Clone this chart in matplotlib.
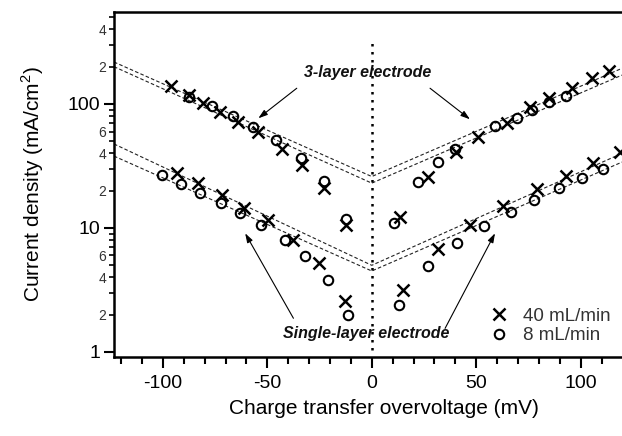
import numpy as np
import matplotlib
matplotlib.use("Agg")
import matplotlib.pyplot as plt
from matplotlib.ticker import FixedLocator, FuncFormatter
from matplotlib.lines import Line2D

plt.rcParams['font.family'] = ['Liberation Sans', 'DejaVu Sans']
plt.rcParams['mathtext.fontset'] = 'custom'
plt.rcParams['mathtext.rm'] = 'Liberation Sans'
plt.rcParams['axes.unicode_minus'] = False

# ---- measured polarisation data (overvoltage in mV, current density in mA/cm2)
eta_3l_40 = [-96.2, -87.7, -80.6, -72.6, -63.8, -54.3, -43.1, -33.5, -22.8, -12.1,
             13.5, 27.1, 40.2, 51.0, 64.6, 75.7, 84.8, 95.7, 105.3, 113.5]
j_3l_40 = [140, 118, 101, 86.7, 72, 59.8, 43.1, 32.2, 20.9, 10.6,
           12.2, 25.7, 40.9, 54.5, 69.9, 95, 111, 134, 161, 185]

eta_3l_8 = [-87.3, -76.6, -66.6, -57.0, -45.8, -33.8, -22.8, -12.1,
            10.8, 22.0, 31.9, 39.9, 59.0, 69.4, 76.6, 84.8, 92.8]
j_3l_8 = [114.5, 96.4, 80, 65.6, 51, 36.5, 24.1, 11.8,
          11.0, 23.4, 33.9, 43.1, 66.8, 77.6, 89.5, 104, 116.7]

eta_1l_40 = [-93.0, -83.0, -71.8, -61.2, -49.5, -37.5, -25.1, -12.8,
             15.1, 31.9, 47.0, 63.0, 78.9, 92.8, 106.0, 118.8]
j_1l_40 = [27.9, 22.9, 18.5, 14.5, 11.5, 8.0, 5.2, 2.6,
           3.16, 6.73, 10.6, 15.0, 20.5, 26.3, 33.2, 41.2]

eta_1l_8 = [-100.5, -91.2, -82.2, -72.3, -63.0, -53.0, -41.5, -31.9, -20.8, -11.2,
            13.2, 27.1, 40.7, 53.7, 66.7, 77.7, 89.8, 100.5, 110.5]
j_1l_8 = [26.8, 22.6, 19.3, 16.0, 13.2, 10.6, 8.0, 5.9, 3.8, 1.99,
          2.39, 4.94, 7.52, 10.4, 13.5, 16.8, 20.9, 25.1, 29.7]

# Tafel fit lines (cathodic end, zero overvoltage, anodic end)
fit_eta = [-123.4, 0.0, 119.8]
fit_3l_a = [218, 26, 194]
fit_3l_b = [200, 23, 171]
fit_1l_a = [47.6, 5.0, 40]
fit_1l_b = [38, 4.5, 34]

legend_labels = ['40 mL/min', '8 mL/min']

W, H = 622, 436
fig = plt.figure(figsize=(W / 100, H / 100), dpi=100)
ax = fig.add_axes([114 / W, (H - 357) / H, (W - 114) / W, (357 - 12) / H])

ax.set_yscale('log')
ax.set_xlim(-123.4, 119.8)
ax.set_ylim(0.911, 552)

dash = (0, (3.2, 2.0))
for fit in (fit_3l_a, fit_3l_b, fit_1l_a, fit_1l_b):
    ax.plot(fit_eta, fit, linestyle=dash, color='#222222', lw=0.8, zorder=2)

# zero-overvoltage marker line
ax.plot([0, 0], [1.04, 328], linestyle=(0, (1.0, 2.2)), color='black', lw=1.8, zorder=2)

xkw = dict(marker='x', linestyle='none', color='black', markersize=8.5, markeredgewidth=1.8, zorder=3)
okw = dict(marker='o', linestyle='none', markerfacecolor='none', markeredgecolor='black',
           markersize=6.8, markeredgewidth=1.5, zorder=3)
ax.plot(eta_3l_40, j_3l_40, **xkw)
ax.plot(eta_1l_40, j_1l_40, **xkw)
ax.plot(eta_3l_8, j_3l_8, **okw)
ax.plot(eta_1l_8, j_1l_8, **okw)

# annotations
tkw = dict(fontsize=11.5, fontweight='bold', fontstyle='italic', ha='center', va='center', color='#111111')
ax.text(-2.2, 178, '3-layer electrode', **tkw)
ax.text(-2.5, 1.42, 'Single-layer electrode', **tkw)
akw = dict(arrowstyle='-|>,head_length=0.55,head_width=0.18', color='black', lw=0.8,
           shrinkA=0, shrinkB=0)
ax.annotate('', xy=(-54.3, 76.7), xytext=(-35.9, 134), arrowprops=akw)
ax.annotate('', xy=(47.0, 75.3), xytext=(27.9, 134), arrowprops=akw)
ax.annotate('', xy=(-60.6, 9.06), xytext=(-37.5, 1.87), arrowprops=akw)
ax.annotate('', xy=(59.0, 9.06), xytext=(35.1, 1.55), arrowprops=akw)

# legend
handles = [Line2D([], [], **xkw), Line2D([], [], **okw)]
leg = ax.legend(handles, legend_labels, loc='center left', bbox_to_anchor=(0.725, 0.09),
                frameon=False, fontsize=13.5, handlelength=1.0, handletextpad=0.75,
                labelspacing=0.12, borderaxespad=0)
for t in leg.get_texts():
    t.set_color('#333333')

# axes styling
for s in ('left', 'bottom', 'top'):
    ax.spines[s].set_linewidth(1.8)
ax.spines['right'].set_visible(False)

ax.xaxis.set_major_locator(FixedLocator([-100, -50, 0, 50, 100]))
ax.xaxis.set_minor_locator(FixedLocator(np.arange(-120, 121, 10)))
ax.tick_params(axis='x', which='major', direction='out', length=8, width=1.5,
               labelsize=14, pad=5, top=False)
ax.tick_params(axis='x', which='minor', direction='out', length=5, width=1.5, top=False)

ax.yaxis.set_major_locator(FixedLocator([1, 10, 100]))
ax.yaxis.set_major_formatter(FuncFormatter(lambda v, p: '%g' % v))
minor_y = [m * 10 ** d for d in range(0, 3) for m in range(2, 10) if m * 10 ** d < 552]
ax.yaxis.set_minor_locator(FixedLocator(minor_y))


def minor_label(v, p):
    mant = int(round(v / 10 ** np.floor(np.log10(v) + 1e-9)))
    return str(mant) if mant in (2, 4, 6) else ''


ax.yaxis.set_minor_formatter(FuncFormatter(minor_label))
ax.tick_params(axis='y', which='major', direction='out', length=7, width=1.5,
               labelsize=14, pad=3, right=False)
ax.tick_params(axis='y', which='minor', direction='out', length=3.5, width=1.2,
               labelsize=10, pad=2, labelcolor='#333333', right=False)

ax.set_xlabel('Charge transfer overvoltage (mV)', fontsize=15)
ax.set_ylabel(r'Current density (mA/cm$^{2}$)', fontsize=15)
ax.xaxis.label.set_va('center')
ax.yaxis.label.set_va('center')
ax.xaxis.set_label_coords(0.531, -0.148)
ax.yaxis.set_label_coords(-0.161, 0.50)

fig.savefig('out.png', dpi=100)
